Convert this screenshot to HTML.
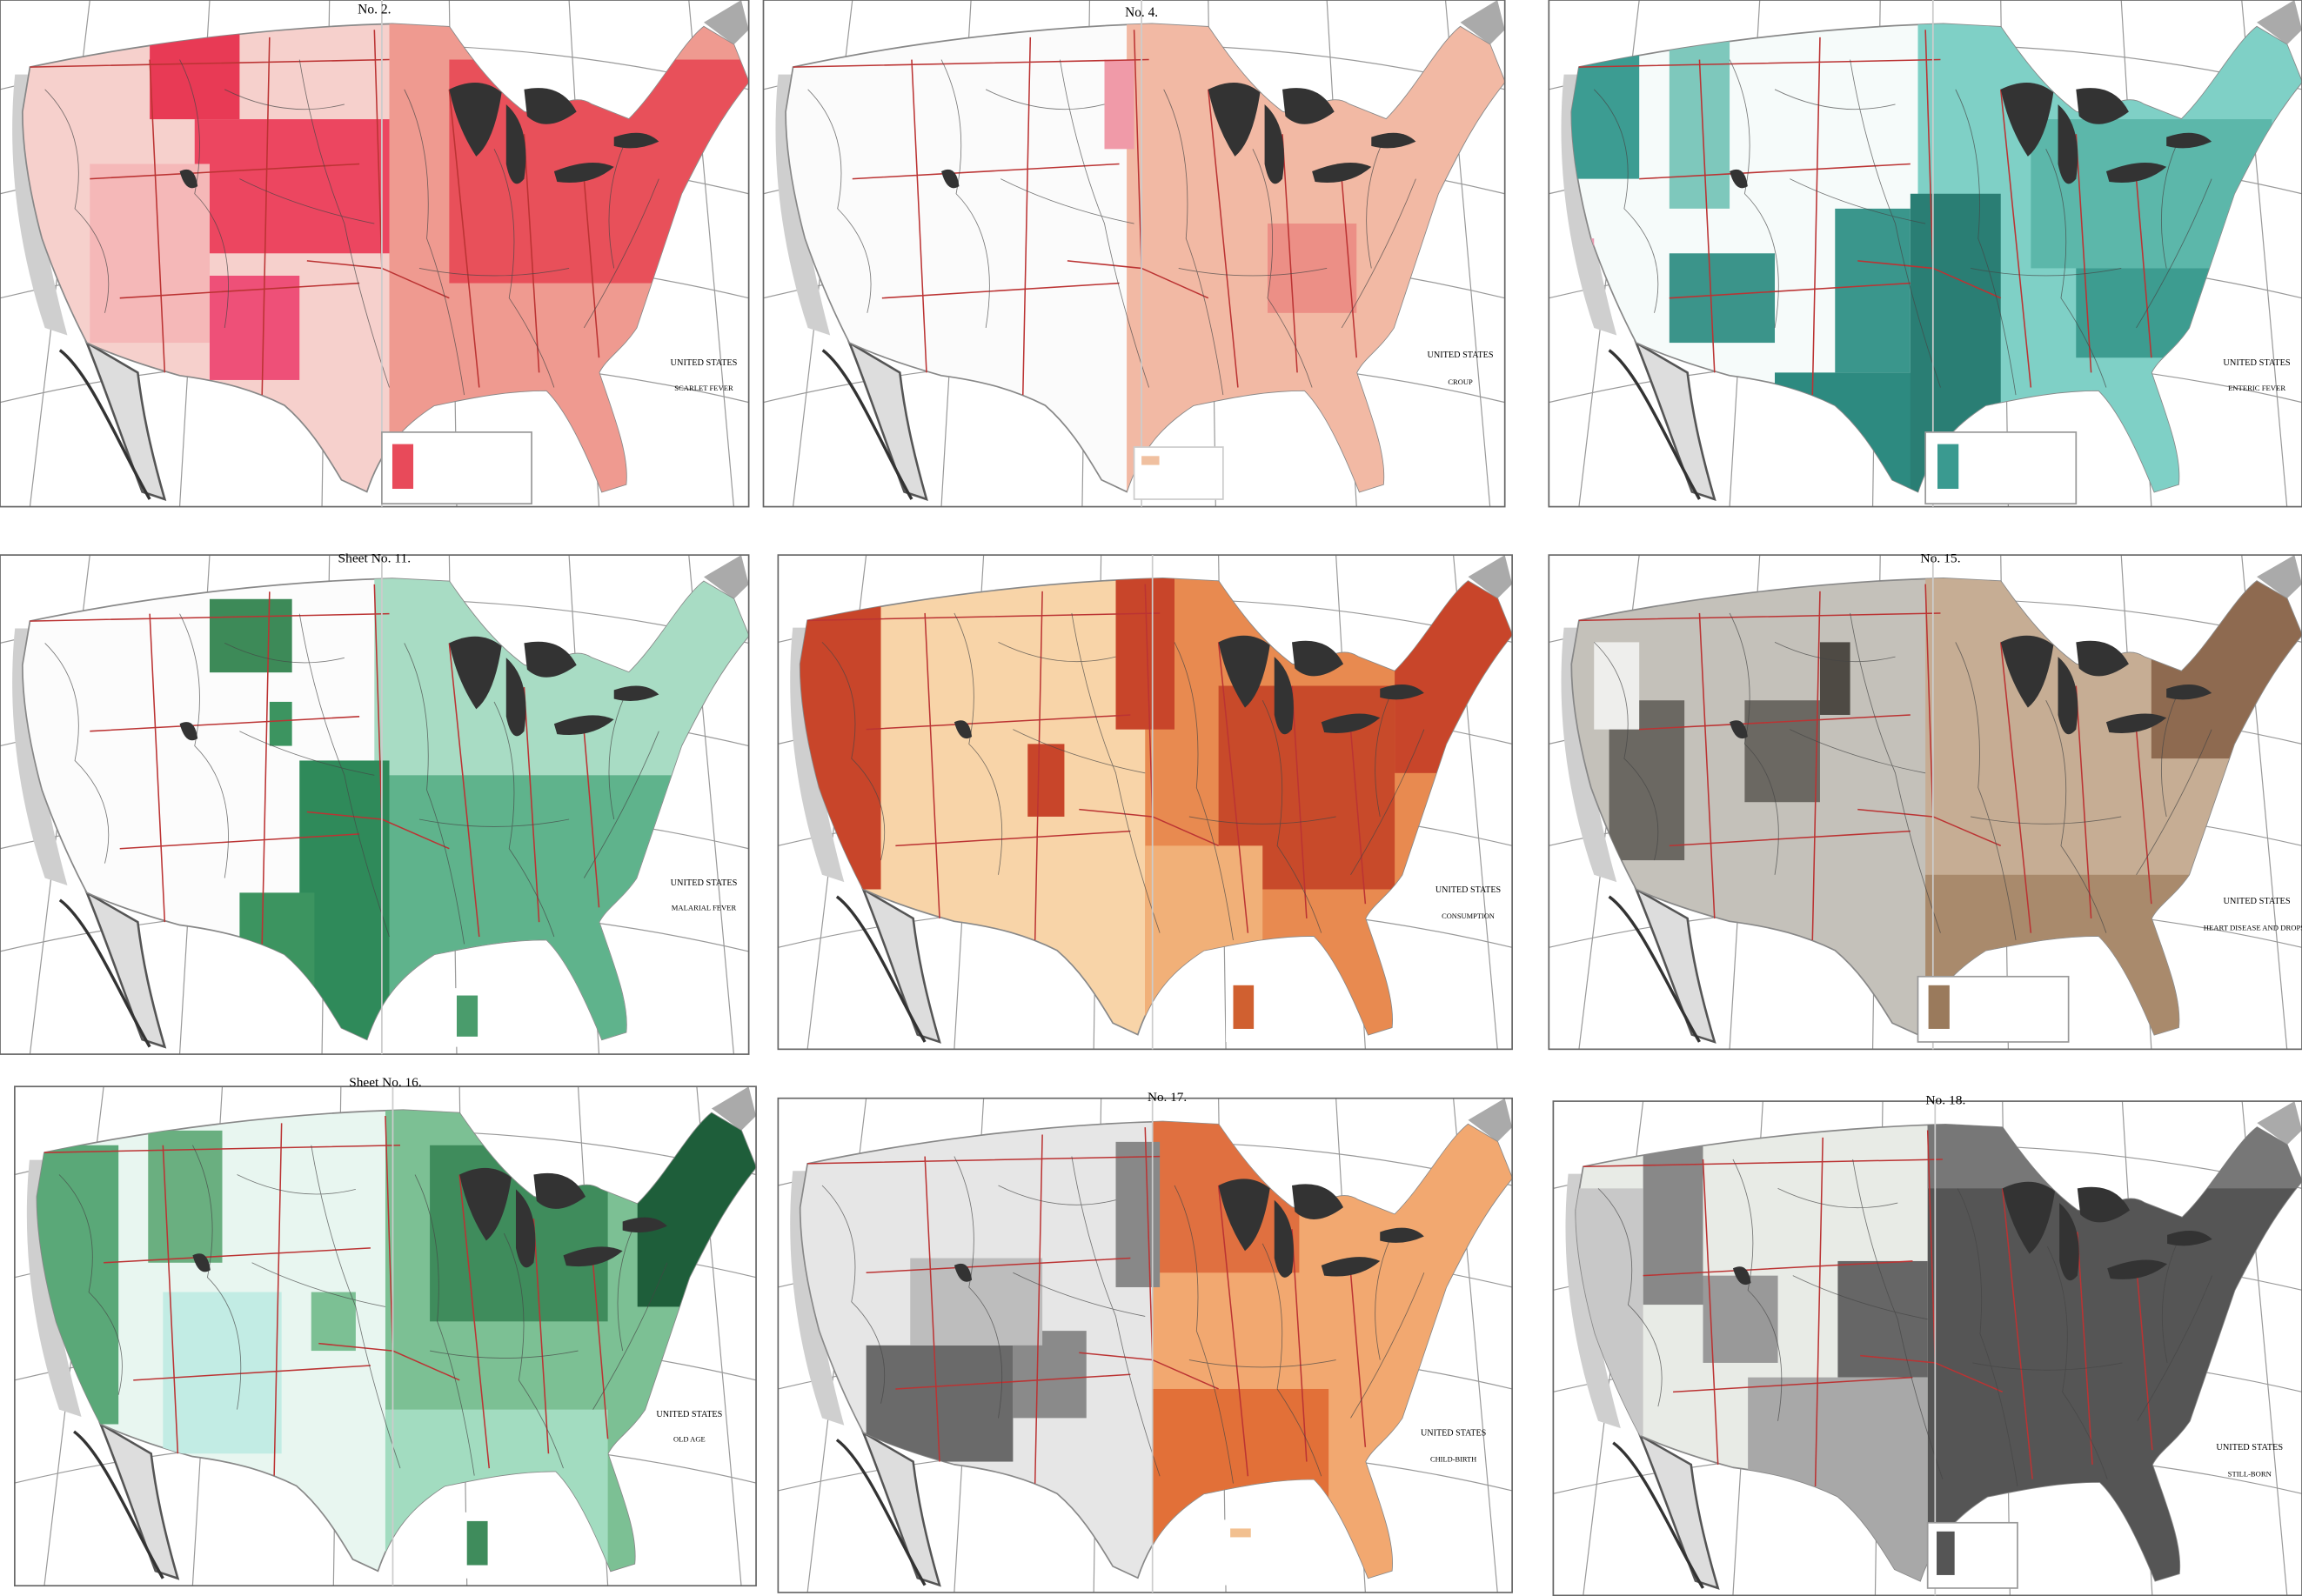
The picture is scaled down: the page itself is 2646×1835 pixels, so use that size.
<!DOCTYPE html>
<html><head><meta charset="utf-8"><style>
html,body{margin:0;padding:0;background:#fff}
svg{display:block}
text{font-family:"Liberation Serif",serif}
</style></head><body>
<svg width="2646" height="1835" viewBox="0 0 1568 1087" preserveAspectRatio="none" xmlns="http://www.w3.org/2000/svg">
<defs>
<path id="usp" d="M20,45 C90,30 180,18 262,16 L300,18 C315,40 330,60 350,75 C365,80 380,60 395,70 L420,80 C440,60 455,30 470,18 L490,30 L500,55 C480,80 470,100 455,130 C445,160 435,190 425,220 C415,235 405,240 400,250 C410,280 420,305 418,325 L402,330 C390,300 378,275 365,262 C335,262 310,268 290,272 C270,285 255,300 245,330 L228,322 C215,300 205,285 190,272 C170,262 150,256 120,252 C95,245 75,238 58,230 C45,205 35,180 28,160 C20,130 15,100 15,75 Z"/>
<clipPath id="us"><use href="#usp"/></clipPath>
<g id="grid" stroke="#999" stroke-width="0.7" fill="none">
<path d="M0,60 Q250,0 500,60 M0,130 Q250,70 500,130 M0,200 Q250,140 500,200 M0,270 Q250,210 500,270"/>
<path d="M60,0 L20,340 M140,0 L120,340 M220,0 L215,340 M300,0 L305,340 M380,0 L400,340 M460,0 L490,340"/>
</g>
<g id="under">
<path d="M58,230 C70,260 80,290 95,330 L110,335 C100,300 95,275 92,250 Z" fill="#ddd" stroke="#555" stroke-width="1.5"/>
<path d="M10,50 C5,100 10,160 30,220 L45,225 C30,170 20,110 22,50 Z" fill="#cfcfcf"/>
<path d="M470,15 L495,0 L500,20 L490,30 Z" fill="#aaa"/>
<path d="M40,235 C60,250 80,300 100,335" stroke="#333" stroke-width="2" fill="none"/>
</g>
<g id="lines" fill="none">
<g stroke="#b33" stroke-width="0.9">
<path d="M100,40 L110,250 M180,25 L175,265 M250,20 L255,180 L300,200 M300,60 L320,260 M350,90 L360,250 M390,120 L400,240 M255,180 L205,175 M20,45 L260,40 M60,120 L240,110 M80,200 L240,190"/>
</g>
<g stroke="#444" stroke-width="0.5" opacity="0.7">
<path d="M30,60 Q60,90 50,140 Q80,170 70,210 M120,40 Q140,80 130,130 Q160,160 150,220 M200,40 Q210,100 230,150 Q240,200 260,260 M270,60 Q290,100 285,160 Q300,200 310,265 M330,100 Q350,140 340,200 Q360,230 370,260 M420,90 Q400,130 410,180 M440,120 Q420,170 390,220 M160,120 Q200,140 250,150 M280,180 Q330,190 380,180 M150,60 Q190,80 230,70"/>
</g>
<g fill="#333">
<path d="M300,60 Q320,50 335,62 Q330,95 318,105 Q305,85 300,60 Z"/>
<path d="M338,70 Q355,85 350,120 Q342,130 338,110 Z"/>
<path d="M350,60 Q375,55 385,75 Q365,90 352,78 Z"/>
<path d="M370,115 Q395,105 410,112 Q395,125 372,122 Z"/>
<path d="M410,92 Q430,85 440,95 Q425,102 410,98 Z"/>
<path d="M120,115 Q130,110 132,125 Q124,130 120,115 Z"/>
</g>
</g>
<g id="frame"><rect x="0" y="0" width="500" height="340" fill="none" stroke="#666" stroke-width="1"/><line x1="255" y1="0" x2="255" y2="340" stroke="#ccc" stroke-width="1"/></g>
</defs>

<!-- 1 Scarlet Fever -->
<g transform="translate(0,0) scale(1.02,1.015)">
<rect x="0" y="0" width="500" height="340" fill="#fff"/>
<use href="#grid"/><use href="#under"/>
<use href="#usp" fill="#f6d0cc" stroke="#888"/>
<g clip-path="url(#us)">
<rect x="260" y="0" width="240" height="340" fill="#ef9a90"/>
<rect x="300" y="40" width="200" height="150" fill="#e8505a"/>
<rect x="100" y="20" width="60" height="60" fill="#e83a55"/>
<rect x="130" y="80" width="130" height="90" fill="#ec4660"/>
<rect x="140" y="185" width="60" height="70" fill="#ee5078"/>
<rect x="60" y="110" width="80" height="120" fill="#f5b8b8"/>
</g>
<use href="#lines"/><use href="#frame"/>
<rect x="255" y="290" width="100" height="48" fill="#fff" stroke="#999"/>
<rect x="262" y="298" width="14" height="30" fill="#e84a5a"/>
<text x="250" y="9" font-size="9" text-anchor="middle">No. 2.</text>
<text x="470" y="245" font-size="6" text-anchor="middle">UNITED STATES</text>
<text x="470" y="262" font-size="5" text-anchor="middle">SCARLET FEVER</text>
</g>

<!-- 2 Croup -->
<g transform="translate(520,0) scale(1.01,1.015)">
<rect x="0" y="0" width="500" height="340" fill="#fff"/>
<use href="#grid"/><use href="#under"/>
<use href="#usp" fill="#fbfbfb" stroke="#888"/>
<g clip-path="url(#us)">
<rect x="245" y="0" width="255" height="340" fill="#f2b9a4"/>
<rect x="340" y="150" width="60" height="60" fill="#ec8f86"/>
<rect x="230" y="40" width="20" height="60" fill="#f09aa8"/>
</g>
<use href="#lines"/><use href="#frame"/>
<rect x="250" y="300" width="60" height="35" fill="#fff" stroke="#ccc"/>
<rect x="255" y="306" width="12" height="6" fill="#f0c0a0"/>
<text x="255" y="11" font-size="9" text-anchor="middle">No. 4.</text>
<text x="470" y="240" font-size="6" text-anchor="middle">UNITED STATES</text>
<text x="470" y="258" font-size="5" text-anchor="middle">CROUP</text>
</g>

<!-- 3 Enteric -->
<g transform="translate(1055,0) scale(1.026,1.015)">
<rect x="0" y="0" width="500" height="340" fill="#fff"/>
<use href="#grid"/><use href="#under"/>
<use href="#usp" fill="#f6fbfa" stroke="#888"/>
<g clip-path="url(#us)">
<rect x="245" y="0" width="255" height="340" fill="#7fd0c6"/>
<rect x="0" y="30" width="60" height="90" fill="#3c9c92"/>
<rect x="80" y="20" width="40" height="120" fill="#7ec8bc"/>
<rect x="80" y="170" width="70" height="60" fill="#3b948a"/>
<rect x="150" y="250" width="100" height="90" fill="#2d8a80"/>
<rect x="190" y="140" width="50" height="110" fill="#3a968c"/>
<rect x="240" y="130" width="60" height="200" fill="#2a7e74"/>
<rect x="320" y="80" width="160" height="100" fill="#5cb7aa"/>
<rect x="350" y="180" width="90" height="60" fill="#3d9c90"/>
<rect x="10" y="160" width="20" height="70" fill="#e89ab0"/>
</g>
<use href="#lines"/><use href="#frame"/>
<rect x="250" y="290" width="100" height="48" fill="#fff" stroke="#999"/>
<rect x="258" y="298" width="14" height="30" fill="#3a9a90"/>
<text x="470" y="245" font-size="6" text-anchor="middle">UNITED STATES</text>
<text x="470" y="262" font-size="5" text-anchor="middle">ENTERIC FEVER</text>
</g>

<!-- 4 Malarial -->
<g transform="translate(0,378) scale(1.02,1.0)">
<rect x="0" y="0" width="500" height="340" fill="#fff"/>
<use href="#grid"/><use href="#under"/>
<use href="#usp" fill="#fcfcfc" stroke="#888"/>
<g clip-path="url(#us)">
<rect x="250" y="0" width="250" height="340" fill="#a8dcc4"/>
<rect x="260" y="150" width="240" height="190" fill="#5fb38c"/>
<rect x="140" y="30" width="55" height="50" fill="#3d8a58"/>
<rect x="200" y="140" width="60" height="200" fill="#2f8a5a"/>
<rect x="160" y="230" width="50" height="110" fill="#3c9460"/>
<rect x="180" y="100" width="15" height="30" fill="#3c9460"/>
</g>
<use href="#lines"/><use href="#frame"/>
<rect x="300" y="295" width="60" height="40" fill="#fff"/>
<rect x="305" y="300" width="14" height="28" fill="#4a9c6c"/>
<text x="250" y="5" font-size="9" text-anchor="middle">Sheet No. 11.</text>
<text x="470" y="225" font-size="6" text-anchor="middle">UNITED STATES</text>
<text x="470" y="242" font-size="5" text-anchor="middle">MALARIAL FEVER</text>
</g>

<!-- 5 Consumption -->
<g transform="translate(530,378) scale(1.0,0.99)">
<rect x="0" y="0" width="500" height="340" fill="#fff"/>
<use href="#grid"/><use href="#under"/>
<use href="#usp" fill="#f8d4a8" stroke="#888"/>
<g clip-path="url(#us)">
<rect x="0" y="0" width="70" height="230" fill="#c8452a"/>
<rect x="250" y="0" width="250" height="340" fill="#e88a50"/>
<rect x="230" y="0" width="40" height="120" fill="#c8452a"/>
<rect x="300" y="90" width="120" height="140" fill="#c84a2a"/>
<rect x="420" y="0" width="80" height="150" fill="#c8452a"/>
<rect x="170" y="130" width="25" height="50" fill="#c8452a"/>
<rect x="250" y="200" width="80" height="140" fill="#f1b078"/>
</g>
<use href="#lines"/><use href="#frame"/>
<rect x="305" y="290" width="60" height="45" fill="#fff"/>
<rect x="310" y="296" width="14" height="30" fill="#d06030"/>
<text x="470" y="232" font-size="6" text-anchor="middle">UNITED STATES</text>
<text x="470" y="250" font-size="5" text-anchor="middle">CONSUMPTION</text>
</g>

<!-- 6 Heart disease -->
<g transform="translate(1055,378) scale(1.026,0.99)">
<rect x="0" y="0" width="500" height="340" fill="#fff"/>
<use href="#grid"/><use href="#under"/>
<use href="#usp" fill="#c4c1ba" stroke="#888"/>
<g clip-path="url(#us)">
<rect x="250" y="0" width="250" height="340" fill="#c6ad94"/>
<rect x="400" y="10" width="100" height="130" fill="#8e6a50"/>
<rect x="250" y="220" width="250" height="120" fill="#a98a6c"/>
<rect x="40" y="100" width="50" height="110" fill="#6b6862"/>
<rect x="130" y="100" width="50" height="70" fill="#6b6862"/>
<rect x="180" y="60" width="20" height="50" fill="#4e4a44"/>
<rect x="30" y="60" width="30" height="60" fill="#eeeeec"/>
</g>
<use href="#lines"/><use href="#frame"/>
<rect x="245" y="290" width="100" height="45" fill="#fff" stroke="#999"/>
<rect x="252" y="296" width="14" height="30" fill="#9a7a5c"/>
<text x="260" y="5" font-size="9" text-anchor="middle">No. 15.</text>
<text x="470" y="240" font-size="6" text-anchor="middle">UNITED STATES</text>
<text x="470" y="258" font-size="5" text-anchor="middle">HEART DISEASE AND DROPSY</text>
</g>

<!-- 7 Old age -->
<g transform="translate(10,740) scale(1.01,1.0)">
<rect x="0" y="0" width="500" height="340" fill="#fff"/>
<use href="#grid"/><use href="#under"/>
<use href="#usp" fill="#e8f6f0" stroke="#888"/>
<g clip-path="url(#us)">
<rect x="0" y="40" width="70" height="190" fill="#5aa878"/>
<rect x="250" y="0" width="250" height="340" fill="#7cc094"/>
<rect x="280" y="40" width="120" height="120" fill="#3f8c5c"/>
<rect x="420" y="0" width="80" height="150" fill="#1e5e3a"/>
<rect x="90" y="30" width="50" height="90" fill="#6aaf80"/>
<rect x="100" y="140" width="80" height="110" fill="#c2ece4"/>
<rect x="250" y="220" width="150" height="120" fill="#a2dcc0"/>
<rect x="200" y="140" width="30" height="40" fill="#7cc094"/>
</g>
<use href="#lines"/><use href="#frame"/>
<rect x="300" y="290" width="60" height="45" fill="#fff"/>
<rect x="305" y="296" width="14" height="30" fill="#3f8c5c"/>
<text x="250" y="0" font-size="9" text-anchor="middle">Sheet No. 16.</text>
<text x="455" y="225" font-size="6" text-anchor="middle">UNITED STATES</text>
<text x="455" y="242" font-size="5" text-anchor="middle">OLD AGE</text>
</g>

<!-- 8 Child-birth -->
<g transform="translate(530,748) scale(1.0,0.99)">
<rect x="0" y="0" width="500" height="340" fill="#fff"/>
<use href="#grid"/><use href="#under"/>
<use href="#usp" fill="#e6e6e6" stroke="#888"/>
<g clip-path="url(#us)">
<rect x="255" y="0" width="245" height="340" fill="#f2a870"/>
<rect x="255" y="0" width="100" height="120" fill="#e07040"/>
<rect x="255" y="200" width="120" height="140" fill="#e27038"/>
<rect x="60" y="170" width="100" height="80" fill="#6a6a6a"/>
<rect x="160" y="160" width="50" height="60" fill="#8a8a8a"/>
<rect x="230" y="30" width="30" height="100" fill="#888"/>
<rect x="90" y="110" width="90" height="60" fill="#bdbdbd"/>
</g>
<use href="#lines"/><use href="#frame"/>
<rect x="300" y="290" width="60" height="45" fill="#fff"/>
<rect x="308" y="296" width="14" height="6" fill="#f2c090"/>
<text x="265" y="2" font-size="9" text-anchor="middle">No. 17.</text>
<text x="460" y="232" font-size="6" text-anchor="middle">UNITED STATES</text>
<text x="460" y="250" font-size="5" text-anchor="middle">CHILD-BIRTH</text>
</g>

<!-- 9 Still-born -->
<g transform="translate(1058,750) scale(1.02,0.99)">
<rect x="0" y="0" width="500" height="340" fill="#fff"/>
<use href="#grid"/><use href="#under"/>
<use href="#usp" fill="#e8ebe6" stroke="#888"/>
<g clip-path="url(#us)">
<rect x="250" y="0" width="250" height="340" fill="#555"/>
<rect x="250" y="0" width="250" height="60" fill="#777"/>
<rect x="60" y="20" width="40" height="120" fill="#888"/>
<rect x="100" y="120" width="50" height="60" fill="#999"/>
<rect x="190" y="110" width="60" height="80" fill="#666"/>
<rect x="0" y="60" width="60" height="170" fill="#c8c8c8"/>
<rect x="130" y="190" width="120" height="150" fill="#a8a8a8"/>
</g>
<use href="#lines"/><use href="#frame"/>
<rect x="250" y="290" width="60" height="45" fill="#fff" stroke="#999"/>
<rect x="256" y="296" width="12" height="30" fill="#555"/>
<text x="262" y="2" font-size="9" text-anchor="middle">No. 18.</text>
<text x="465" y="240" font-size="6" text-anchor="middle">UNITED STATES</text>
<text x="465" y="258" font-size="5" text-anchor="middle">STILL-BORN</text>
</g>
</svg>
</body></html>
